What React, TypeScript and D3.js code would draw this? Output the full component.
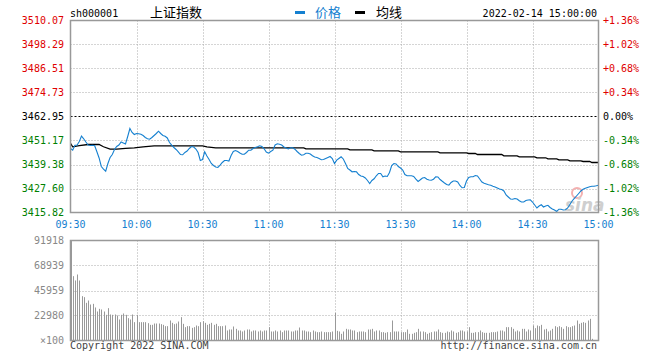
import React, { useRef, useEffect } from 'react';
import * as d3 from 'd3';

// minute-by-minute SSE Composite, 2022-02-14 (index 0 = 09:30, 120 = 11:30/13:00, 240 = 15:00)
const prices = [
  3447.24, 3446.41, 3448.86, 3448.96, 3450.68, 3453.38, 3452.00, 3450.43, 3448.96, 3448.71,
  3448.86, 3448.57, 3445.62, 3442.58, 3438.40, 3437.08, 3436.10, 3439.88, 3442.82, 3444.30,
  3446.75, 3448.22, 3448.96, 3450.43, 3449.94, 3449.45, 3453.13, 3457.06, 3455.10, 3454.11,
  3454.60, 3454.46, 3454.21, 3453.62, 3452.64, 3452.05, 3451.81, 3452.64, 3453.62, 3454.60,
  3455.73, 3454.60, 3453.62, 3453.23, 3452.40, 3450.19, 3448.86, 3447.73, 3446.75, 3445.62,
  3444.30, 3444.15, 3445.28, 3446.01, 3447.24, 3448.22, 3447.98, 3447.00, 3445.28, 3441.35,
  3441.84, 3445.62, 3443.56, 3441.84, 3439.88, 3438.90, 3438.16, 3437.91, 3439.04, 3440.37,
  3441.35, 3441.35, 3441.10, 3443.80, 3445.77, 3446.26, 3445.77, 3445.03, 3444.39, 3444.44,
  3445.28, 3446.41, 3446.41, 3447.24, 3447.73, 3448.12, 3448.57, 3448.22, 3447.09, 3445.52,
  3444.93, 3445.77, 3446.41, 3448.96, 3449.55, 3449.30, 3448.96, 3447.98, 3447.49, 3447.00,
  3447.58, 3447.58, 3446.90, 3445.77, 3444.79, 3443.95, 3444.20, 3444.88, 3444.88, 3444.54,
  3443.66, 3443.07, 3442.82, 3442.33, 3441.69, 3441.84, 3442.33, 3442.82, 3443.31, 3442.33,
  3439.88, 3441.50, 3442.33, 3443.17, 3442.09, 3439.88, 3437.42, 3436.69, 3435.80, 3435.95,
  3435.80, 3434.48, 3433.74, 3433.50, 3432.76, 3431.53, 3430.06, 3431.53, 3432.37, 3433.84,
  3434.97, 3434.97, 3433.35, 3433.74, 3433.50, 3435.46, 3438.90, 3439.88, 3439.63, 3438.40,
  3437.67, 3436.69, 3434.48, 3433.84, 3433.84, 3433.84, 3433.50, 3432.17, 3431.04, 3431.88,
  3432.76, 3433.01, 3432.17, 3431.78, 3431.68, 3432.17, 3433.35, 3433.25, 3432.02, 3431.14,
  3430.31, 3429.57, 3429.22, 3430.55, 3431.29, 3431.29, 3430.80, 3429.08, 3427.95, 3428.10,
  3431.29, 3433.01, 3433.35, 3433.35, 3433.99, 3433.74, 3432.27, 3430.80, 3430.16, 3429.81,
  3429.42, 3429.18, 3428.69, 3428.34, 3427.85, 3427.36, 3427.11, 3426.38, 3424.41, 3423.43,
  3422.45, 3422.35, 3422.70, 3422.45, 3421.57, 3420.98, 3420.98, 3421.71, 3421.96, 3422.06,
  3420.98, 3419.50, 3418.03, 3419.01, 3419.60, 3418.52, 3419.01, 3419.36, 3418.28, 3417.54,
  3417.05, 3416.31, 3417.44, 3417.44, 3417.05, 3417.15, 3418.03, 3419.75, 3421.47, 3422.70,
  3423.92, 3425.15, 3426.38, 3427.21, 3427.70, 3428.10, 3428.49, 3428.69, 3428.73, 3428.93,
  3429.22,
];

// average price line, read at the minutes where it changes
const avgMinutes = [
  0, 1, 4, 8, 13, 15, 18, 21, 25, 29, 33, 38, 60, 62, 66, 106, 107, 126, 127, 137,
  138, 149, 150, 167, 168, 180, 181, 184, 185, 196, 197, 203, 204, 211, 212, 216, 217, 221, 222, 226,
  227, 232, 233, 236, 237, 240,
];
const avgValues = [
  3449.70, 3448.08, 3448.60, 3449.20, 3449.20, 3448.10, 3446.90, 3446.90, 3447.30, 3447.58,
  3448.08, 3448.57, 3448.57, 3448.08, 3447.58, 3447.58, 3447.09, 3447.09, 3446.60, 3446.60,
  3446.11, 3446.11, 3445.62, 3445.62, 3445.13, 3445.13, 3444.79, 3444.79, 3444.30, 3444.30,
  3443.66, 3443.66, 3443.17, 3443.17, 3442.68, 3442.68, 3442.18, 3442.18, 3441.69, 3441.69,
  3441.20, 3441.20, 3440.86, 3440.86, 3440.37, 3440.37,
];

// volume per minute, x100
const volumes = [
  91918, 59133, 55151, 60666, 55151, 40750, 39831, 34622, 36767, 33090,
  33703, 30333, 26656, 29108, 28495, 26656, 23594, 29721, 23899, 23594,
  23899, 22980, 19303, 23594, 24818, 23594, 20527, 19303, 23899, 16852,
  23594, 16852, 16852, 16852, 16852, 15932, 14400, 14400, 15626, 15626,
  15626, 15013, 14400, 13175, 13175, 18384, 16239, 15013, 15626, 17464,
  21447, 15320, 12256, 13175, 13175, 11643, 12256, 13788, 13175, 16852,
  17770, 16239, 14400, 15320, 16239, 14400, 15320, 13175, 13175, 13175,
  13788, 9192, 10111, 10111, 12869, 10724, 9192, 9192, 8273, 9192,
  10111, 10111, 8273, 9192, 9192, 8273, 9192, 8273, 9192, 9192,
  12256, 8273, 8273, 9192, 8273, 9192, 7660, 9192, 9192, 9192,
  8273, 8273, 9192, 9192, 11949, 9192, 9192, 8273, 8273, 7660,
  9192, 8273, 7660, 7660, 8273, 7660, 7660, 7660, 7660, 8273,
  25431, 8886, 8273, 6128, 8273, 10724, 10111, 10111, 9192, 9192,
  7660, 8273, 8273, 8273, 7660, 10111, 10111, 10724, 8273, 9192,
  9192, 7660, 7660, 7048, 7660, 7660, 18384, 8273, 8273, 8273,
  7660, 7660, 7660, 10111, 6128, 6128, 7048, 7660, 10724, 8273,
  8273, 7660, 6128, 7048, 7660, 8273, 8273, 10111, 7660, 7048,
  7048, 8273, 7660, 9192, 8273, 7048, 7660, 9192, 9192, 8273,
  8273, 12256, 7048, 7048, 7660, 7660, 9192, 7660, 7048, 7048,
  7048, 7660, 7660, 7660, 8273, 9192, 9192, 8273, 12256, 12256,
  12256, 10724, 8273, 9192, 8273, 10724, 10724, 8273, 10111, 9192,
  13788, 11337, 13788, 13175, 14400, 10111, 10724, 8273, 9192, 10724,
  13175, 12256, 13175, 12256, 10724, 13175, 12256, 12256, 13175, 13788,
  18384, 15320, 16239, 16852, 16239, 18384, 19918, 1532, 0, 0,
  0,
];

const priceTicks = [3510.07, 3498.29, 3486.51, 3474.73, 3462.95, 3451.17, 3439.38, 3427.60, 3415.82];
const pctTicks = ['+1.36%', '+1.02%', '+0.68%', '+0.34%', '0.00%', '-0.34%', '-0.68%', '-1.02%', '-1.36%'];
const timeTickMinutes = [0, 30, 60, 90, 120, 150, 180, 210, 240];
const timeTickLabels = ['09:30', '10:00', '10:30', '11:00', '11:30', '13:30', '14:00', '14:30', '15:00'];
const volTicks = [91918, 68939, 45959, 22980, 0];
const volTickLabels = ['91918', '68939', '45959', '22980', '×100'];
const prevClose = 3462.95;

const mono = "'DejaVu Sans Mono', 'Liberation Mono', monospace";
const cjk = "'Noto Sans CJK SC', sans-serif";

const App = () => {
  const svgRef = useRef<SVGSVGElement>(null);

  useEffect(() => {
    const svg = d3.select(svgRef.current);
    svg.selectAll('*').remove();

    const left = 70.5;
    const right = 598.5;
    const pTop = 20.5;
    const pBottom = 212.5;
    const vTop = 240.5;
    const vBottom = 340.5;

    const x = d3.scaleLinear().domain([0, 240]).range([left, right]);
    const yP = d3.scaleLinear().domain([3415.82, 3510.07]).range([pBottom, pTop]);
    const yV = d3.scaleLinear().domain([0, 91918]).range([vBottom, vTop]);

    const grid = '#aaa';
    const frame = '#999';

    // price grid
    priceTicks.forEach(p => {
      if (p === priceTicks[0] || p === priceTicks[priceTicks.length - 1]) return;
      const y = Math.round(yP(p)) + 0.5;
      svg.append('line')
        .attr('x1', left).attr('x2', right).attr('y1', y).attr('y2', y)
        .attr('stroke', p === prevClose ? '#000' : grid)
        .attr('stroke-dasharray', p === prevClose ? '2,2' : '1,2');
    });
    timeTickMinutes.slice(1, -1).forEach(m => {
      const xx = Math.round(x(m)) + 0.5;
      svg.append('line')
        .attr('x1', xx).attr('x2', xx).attr('y1', pTop).attr('y2', pBottom)
        .attr('stroke', grid).attr('stroke-dasharray', '1,2');
      svg.append('line')
        .attr('x1', xx).attr('x2', xx).attr('y1', vTop).attr('y2', vBottom)
        .attr('stroke', grid).attr('stroke-dasharray', '1,2');
    });
    volTicks.slice(1, -1).forEach(v => {
      const y = Math.round(yV(v)) + 0.5;
      svg.append('line')
        .attr('x1', left).attr('x2', right).attr('y1', y).attr('y2', y)
        .attr('stroke', grid).attr('stroke-dasharray', '1,2');
    });

    // sina watermark
    svg.append('circle').attr('cx', 577).attr('cy', 193).attr('r', 5)
      .attr('fill', 'none').attr('stroke', '#f3b0b0').attr('stroke-width', 2);
    svg.append('text').attr('x', 565).attr('y', 211).text('sina')
      .attr('font-family', "'DejaVu Sans', sans-serif").attr('font-size', 17)
      .attr('font-weight', 'bold').attr('font-style', 'italic').attr('fill', '#cfcfcf');

    // volume bars
    svg.append('g').selectAll('line')
      .data(volumes)
      .enter().append('line')
      .attr('x1', (d, i) => Math.round(x(i)) + 0.5)
      .attr('x2', (d, i) => Math.round(x(i)) + 0.5)
      .attr('y1', vBottom)
      .attr('y2', d => yV(d))
      .attr('stroke', frame)
      .attr('stroke-width', 1);

    // average line
    const avgLine = d3.line<number>()
      .x((d, i) => x(avgMinutes[i]))
      .y(d => yP(d));
    svg.append('path')
      .datum(avgValues)
      .attr('fill', 'none')
      .attr('stroke', '#000')
      .attr('stroke-width', 1.3)
      .attr('d', avgLine);

    // price line
    const priceLine = d3.line<number>()
      .x((d, i) => x(i))
      .y(d => yP(d));
    svg.append('path')
      .datum(prices)
      .attr('fill', 'none')
      .attr('stroke', '#1580d0')
      .attr('stroke-width', 1.1)
      .attr('d', priceLine);

    // frames
    [[pTop, pBottom], [vTop, vBottom]].forEach(([t, b]) => {
      svg.append('rect')
        .attr('x', left).attr('y', t).attr('width', right - left).attr('height', b - t)
        .attr('fill', 'none').attr('stroke', frame).attr('stroke-width', 1.5);
    });

    // price labels
    const labelColor = (i: number) => (i < 4 ? '#e00000' : i === 4 ? '#000' : '#008000');
    priceTicks.forEach((p, i) => {
      svg.append('text')
        .attr('x', 64).attr('y', yP(p)).attr('dy', '0.32em')
        .attr('text-anchor', 'end')
        .attr('font-family', mono).attr('font-size', 10)
        .attr('fill', labelColor(i))
        .text(p.toFixed(2));
      svg.append('text')
        .attr('x', 603).attr('y', yP(p)).attr('dy', '0.32em')
        .attr('font-family', mono).attr('font-size', 10)
        .attr('fill', labelColor(i))
        .text(pctTicks[i]);
    });

    // time labels
    timeTickMinutes.forEach((m, i) => {
      svg.append('text')
        .attr('x', x(m)).attr('y', 227.5)
        .attr('text-anchor', 'middle')
        .attr('font-family', mono).attr('font-size', 10)
        .attr('fill', '#1580d0')
        .text(timeTickLabels[i]);
    });

    // volume labels
    volTicks.forEach((v, i) => {
      svg.append('text')
        .attr('x', 64).attr('y', yV(v)).attr('dy', '0.32em')
        .attr('text-anchor', 'end')
        .attr('font-family', mono).attr('font-size', 10)
        .attr('fill', '#888')
        .text(volTickLabels[i]);
    });

    // header
    svg.append('text').attr('x', 70).attr('y', 16.5)
      .attr('font-family', mono).attr('font-size', 10).attr('fill', '#000').text('sh000001');
    svg.append('text').attr('x', 150).attr('y', 17)
      .attr('font-family', cjk).attr('font-size', 13).attr('fill', '#000').text('上证指数');
    svg.append('rect').attr('x', 295).attr('y', 11).attr('width', 10).attr('height', 3).attr('fill', '#1580d0');
    svg.append('text').attr('x', 315).attr('y', 17)
      .attr('font-family', cjk).attr('font-size', 13).attr('fill', '#1580d0').text('价格');
    svg.append('rect').attr('x', 355).attr('y', 11).attr('width', 10).attr('height', 3).attr('fill', '#000');
    svg.append('text').attr('x', 376).attr('y', 17)
      .attr('font-family', cjk).attr('font-size', 13).attr('fill', '#000').text('均线');
    svg.append('text').attr('x', 597).attr('y', 16.5).attr('text-anchor', 'end')
      .attr('font-family', mono).attr('font-size', 10).attr('fill', '#000').text('2022-02-14 15:00:00');

    // footer
    svg.append('text').attr('x', 70).attr('y', 349)
      .attr('font-family', mono).attr('font-size', 10).attr('fill', '#444').text('Copyright 2022 SINA.COM');
    svg.append('text').attr('x', 597).attr('y', 349).attr('text-anchor', 'end')
      .attr('font-family', mono).attr('font-size', 10).attr('fill', '#444').text('http://finance.sina.com.cn');
  }, []);

  return (
    <div style={{ position: 'absolute', left: 0, top: 0 }}>
      <svg ref={svgRef} width={660} height={360} style={{ display: 'block', background: '#fff' }} />
    </div>
  );
};

export default App;
